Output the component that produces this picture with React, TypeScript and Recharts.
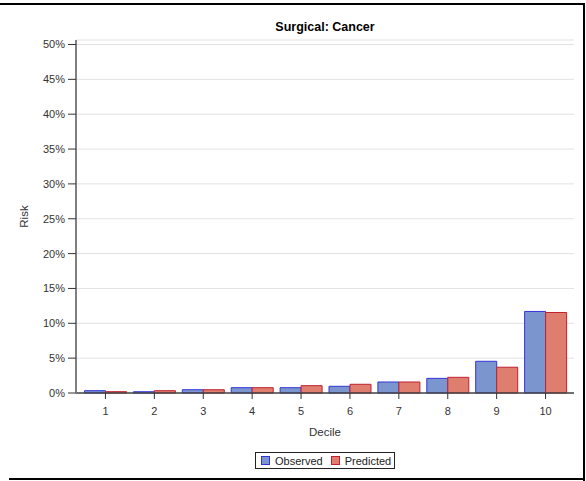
import { Bar, BarChart, CartesianGrid, Legend, XAxis, YAxis } from "recharts";

const deciles = ["1", "2", "3", "4", "5", "6", "7", "8", "9", "10"];
const observed = [0.33, 0.18, 0.47, 0.76, 0.76, 0.96, 1.58, 2.1, 4.55, 11.7];
const predicted = [0.19, 0.33, 0.47, 0.76, 1.05, 1.25, 1.58, 2.25, 3.7, 11.55];
const riskTicks = [0, 5, 10, 15, 20, 25, 30, 35, 40, 45, 50];

const data = deciles.map((decile, i) => ({ decile, observed: observed[i], predicted: predicted[i] }));

const font = "'Liberation Sans', Arial, sans-serif";
const blueFill = "#7b96cf";
const blueLine = "#3434d6";
const redFill = "#df7d6e";
const redLine = "#c0222f";

function Swatch({ fill, stroke }: { fill: string; stroke: string }) {
  return <span style={{ display: "inline-block", width: 7, height: 7, background: fill, border: `1px solid ${stroke}` }} />;
}

function LegendBox() {
  return (
    <div
      style={{
        display: "inline-flex",
        alignItems: "center",
        boxSizing: "border-box",
        height: 17,
        padding: "0 3px 0 5px",
        border: "1px solid #222",
        fontFamily: font,
        fontSize: 11,
        color: "#222",
        background: "#fff",
        whiteSpace: "nowrap",
      }}
    >
      <Swatch fill={blueFill} stroke={blueLine} />
      <span style={{ marginLeft: 5, marginRight: 8 }}>Observed</span>
      <Swatch fill={redFill} stroke={redLine} />
      <span style={{ marginLeft: 5 }}>Predicted</span>
    </div>
  );
}

export default function App() {
  return (
    <div style={{ position: "relative", width: 586, height: 481, background: "#fff" }}>
      <style>{`body{margin:0}`}</style>
      <div style={{ position: "absolute", left: -2, top: 3, width: 585, height: 476, borderTop: "2px solid #000", borderRight: "2px solid #000" }} />
      <div style={{ position: "absolute", left: 9, top: 478, width: 576, borderTop: "2px solid #000" }} />
      <div
        style={{
          position: "absolute",
          left: 76,
          top: 20,
          width: 498,
          textAlign: "center",
          fontFamily: font,
          fontWeight: "bold",
          fontSize: 12.5,
          lineHeight: "14px",
          color: "#000",
        }}
      >
        Surgical: Cancer
      </div>
      <BarChart
        width={586}
        height={481}
        data={data}
        margin={{ top: 40, right: 12, bottom: 13, left: 16 }}
        barCategoryGap={3.5}
        barGap={0}
        style={{ fontFamily: font }}
      >
        <CartesianGrid vertical={false} stroke="#e2e2e2" />
        <XAxis
          dataKey="decile"
          padding={{ left: 5, right: 4 }}
          height={58}
          tickSize={6}
          tickMargin={8}
          tick={{ fontSize: 11, fill: "#333" }}
          tickLine={{ stroke: "#333" }}
          axisLine={{ stroke: "#444", strokeWidth: 1.5 }}
          label={{ value: "Decile", position: "insideBottom", offset: 15, fontSize: 11.5, fill: "#333" }}
        />
        <XAxis xAxisId="top" dataKey="decile" orientation="top" height={0} tick={false} tickLine={false} axisLine={{ stroke: "#444", strokeWidth: 1.5 }} />
        <YAxis
          domain={[0, 50]}
          ticks={riskTicks}
          padding={{ top: 4.5 }}
          width={60}
          tickSize={8}
          tickMargin={3}
          tickFormatter={(v: number) => `${v}%`}
          tick={{ fontSize: 11, fill: "#333" }}
          tickLine={{ stroke: "#333" }}
          axisLine={{ stroke: "#808080", strokeWidth: 2 }}
          label={{ value: "Risk", angle: -90, position: "insideLeft", offset: 8, fontSize: 11.5, fill: "#333", style: { textAnchor: "middle" } }}
        />
        <YAxis yAxisId="right" orientation="right" width={0} domain={[0, 50]} tick={false} tickLine={false} axisLine={{ stroke: "#444", strokeWidth: 1.5 }} />
        <Legend verticalAlign="bottom" content={<LegendBox />} wrapperStyle={{ left: 255, bottom: 13, width: "auto", height: 17 }} />
        <Bar dataKey="observed" name="Observed" fill={blueFill} stroke={blueLine} strokeWidth={1} isAnimationActive={false} />
        <Bar dataKey="predicted" name="Predicted" fill={redFill} stroke={redLine} strokeWidth={1} isAnimationActive={false} />
      </BarChart>
    </div>
  );
}
